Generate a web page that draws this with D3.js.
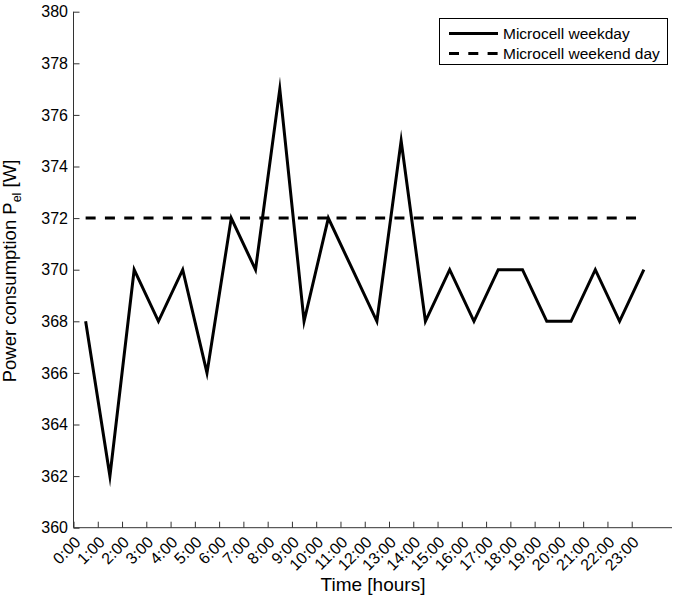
<!DOCTYPE html>
<html>
<head>
<meta charset="utf-8">
<script src="https://cdn.jsdelivr.net/npm/d3@7"></script>
<style>
  html, body { margin: 0; padding: 0; background: #fff; }
  svg { display: block; font-family: "Liberation Sans", Arial, Helvetica, sans-serif; }
</style>
</head>
<body>
<svg id="chart" width="673" height="599"></svg>
<script>
// ---- data ----
const hourLabels = ["0:00","1:00","2:00","3:00","4:00","5:00","6:00","7:00","8:00","9:00","10:00","11:00",
                    "12:00","13:00","14:00","15:00","16:00","17:00","18:00","19:00","20:00","21:00","22:00","23:00"];
const weekdayValues = [368, 362, 370, 368, 370, 366, 372, 370, 377, 368, 372, 370,
                       368, 375, 368, 370, 368, 370, 370, 368, 368, 370, 368, 370];
const weekendValues = [372, 372, 372, 372, 372, 372, 372, 372, 372, 372, 372, 372,
                       372, 372, 372, 372, 372, 372, 372, 372, 372, 372, 372, 372];
const yTicks = [360, 362, 364, 366, 368, 370, 372, 374, 376, 378, 380];
const seriesNames = ["Microcell weekday", "Microcell weekend day"];

// ---- layout ----
const svg = d3.select("#chart");
const mLeft = 73.5, mRight = 672, mTop = 11.7, mBottom = 527.7;
const axisColor = "#333";

const x = d3.scaleLinear().domain([0, 24.66]).range([mLeft, mRight]);
const y = d3.scaleLinear().domain([360, 380]).range([mBottom, mTop]);

// Y axis
const yAxis = d3.axisLeft(y).tickValues(yTicks).tickSize(-6).tickPadding(5.5).tickFormat(d3.format("d"));
const gy = svg.append("g").attr("transform", `translate(${mLeft},0)`).call(yAxis);
gy.select(".domain").attr("stroke", axisColor).attr("stroke-width", 1).attr("d", `M0,${mBottom}V${mTop}`);
gy.selectAll(".tick line").attr("stroke", axisColor);
gy.selectAll(".tick text").attr("font-size", 16).attr("fill", "#000")
  .attr("font-family", "'Liberation Sans', Arial, sans-serif");

// X axis
const xAxis = d3.axisBottom(x).tickValues(d3.range(hourLabels.length))
  .tickFormat(i => hourLabels[i]).tickSize(-6);
const gx = svg.append("g").attr("transform", `translate(0,${mBottom})`).call(xAxis);
gx.select(".domain").attr("stroke", axisColor).attr("stroke-width", 1).attr("d", `M${mLeft},0H${mRight}`);
gx.selectAll(".tick line").attr("stroke", axisColor);
gx.selectAll(".tick text")
  .attr("font-size", 16).attr("fill", "#000")
  .attr("font-family", "'Liberation Sans', Arial, sans-serif")
  .attr("text-anchor", "end")
  .attr("dy", null).attr("y", null)
  .attr("transform", "translate(7.5,15.5) rotate(-45)");

// Lines
const line = d3.line().x((d, i) => x(i + 0.5)).y(d => y(d)).curve(d3.curveLinear);

svg.append("path").datum(weekendValues)
  .attr("d", line).attr("fill", "none").attr("stroke", "#000")
  .attr("stroke-width", 3).attr("stroke-dasharray", "10,9.3");

svg.append("path").datum(weekdayValues)
  .attr("d", line).attr("fill", "none").attr("stroke", "#000")
  .attr("stroke-width", 3).attr("stroke-linejoin", "miter").attr("stroke-miterlimit", 10);

// Axis labels
svg.append("text").attr("x", 373).attr("y", 591).attr("text-anchor", "middle")
  .attr("font-size", 19).text("Time [hours]");

const yl = svg.append("text").attr("transform", "translate(16,271) rotate(-90)")
  .attr("text-anchor", "middle").attr("font-size", 18.5);
yl.append("tspan").text("Power consumption P");
yl.append("tspan").attr("font-size", 12.5).attr("dy", 5).text("el");
yl.append("tspan").attr("dy", -5).text(" [W]");

// Legend
const lg = svg.append("g");
lg.append("rect").attr("x", 439.5).attr("y", 18.5).attr("width", 228).attr("height", 46)
  .attr("fill", "#fff").attr("stroke", "#000").attr("stroke-width", 1);
const dashes = [null, "10,9.3"];
seriesNames.forEach((name, i) => {
  const cy = 33.5 + i * 20;
  lg.append("line").attr("x1", 449).attr("x2", 498).attr("y1", cy).attr("y2", cy)
    .attr("stroke", "#000").attr("stroke-width", 3).attr("stroke-dasharray", dashes[i]);
  lg.append("text").attr("x", 503).attr("y", cy + 5.5).attr("font-size", 15.5).text(name);
});
</script>
</body>
</html>
